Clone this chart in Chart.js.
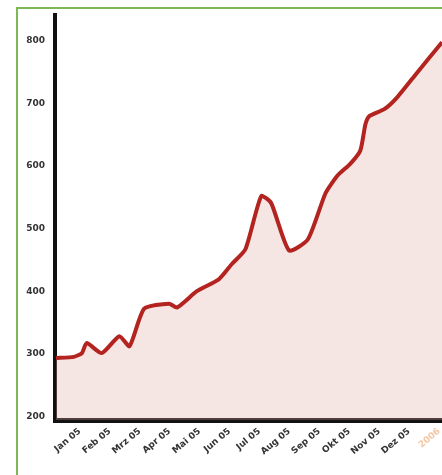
<!DOCTYPE html>
<html>
<head>
<meta charset="utf-8">
<script src="https://cdn.jsdelivr.net/npm/chart.js@4"></script>
<style>
    html, body { margin: 0; padding: 0; width: 442px; height: 475px; overflow: hidden; background: #fff; }
    #frame { position: absolute; left: 16px; top: 7px; width: 520px; height: 520px; border: 2px solid #7cb955; }
    #wrap { position: absolute; left: 0; top: 0; width: 452px; height: 475px; }
</style>
</head>
<body>
<div id="frame"></div>
<div id="wrap"><canvas id="chart1"></canvas></div>
<script>
// month labels (tick at 0..12)
var monthLabels = ["Jan 05", "Feb 05", "Mrz 05", "Apr 05", "Mai 05", "Jun 05", "Jul 05",
    "Aug 05", "Sep 05", "Okt 05", "Nov 05", "Dez 05", "2006"];
var monthPos = [0, 1, 2, 3, 4, 5, 6, 7, 8, 9, 10, 11, 12];
var yTicks = [200, 300, 400, 500, 600, 700, 800];

// series (x in months, y values)
var pointMonths = [-0.8, -0.2, 0.07, 0.23, 0.73, 1.32, 1.66, 2.15, 2.98, 3.25, 3.91, 4.64, 5.07,
    5.53, 6.06, 6.39, 6.99, 7.62, 8.21, 8.61, 9.04, 9.37, 9.54, 9.67, 10.17, 10.6, 11.26, 12.1];
var pointValues = [293, 295, 301, 317, 301, 328, 312, 372, 380, 374, 400, 419, 443,
    467, 552, 541, 465, 483, 557, 585, 604, 625, 667, 680, 691, 710, 749, 798];

var tickFont = { family: "DejaVu Sans", size: 9, weight: "bold" };

var ctxChart1 = document.getElementById('chart1').getContext('2d');
var chart1 = new Chart(ctxChart1, {
    type: 'line',
    data: {
        datasets: [{
            data: pointMonths.map(function (m, i) { return { x: m, y: pointValues[i] }; }),
            borderColor: '#b3231f',
            borderWidth: 4,
            backgroundColor: 'rgba(226,172,163,0.3)',
            fill: 'start',
            tension: 0.2,
            pointRadius: 0
        }]
    }, options: {
        animation: false,
        maintainAspectRatio: false,
        layout: { padding: { top: 8, left: 0, right: 0, bottom: 0 } },
        plugins: {
            legend: { display: false },
            tooltip: { enabled: false }
        }, scales: {
            x: {
                type: 'linear',
                min: -0.83,
                max: 12.1,
                afterBuildTicks: function (s) { s.ticks = monthPos.map(function (v) { return { value: v }; }); },
                afterFit: function (s) { s.height = 55; },
                grid: { display: false, drawTicks: false },
                border: { display: true, color: '#111', width: 5 },
                ticks: {
                    autoSkip: false,
                    maxRotation: 40,
                    minRotation: 40,
                    padding: 6,
                    font: tickFont,
                    color: function (c) { return c.index === 12 ? '#f2c6a4' : '#333'; },
                    callback: function (v, i) { return monthLabels[i]; }
                }
            },
            y: {
                min: 194,
                max: 841,
                afterBuildTicks: function (s) { s.ticks = yTicks.map(function (v) { return { value: v }; }); },
                afterFit: function (s) { s.width = 55; },
                grid: { display: false, drawTicks: false },
                border: { display: true, color: '#111', width: 4 },
                ticks: { padding: 10, font: tickFont, color: '#333' }
            }
        }
    }
});
</script>
</body>
</html>
